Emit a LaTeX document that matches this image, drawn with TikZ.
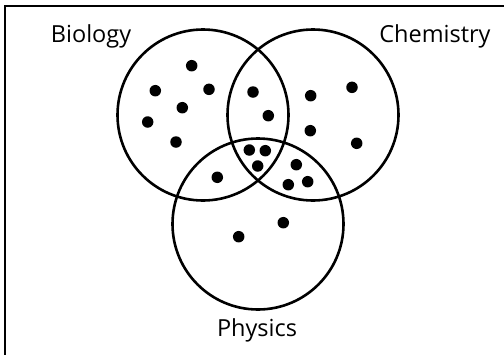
\documentclass[tikz,border=0pt]{standalone}
\usepackage{fontspec}
\setmainfont{Open Sans}
\usepackage{tikz}
\usetikzlibrary{positioning}
\tikzset{
  % --- sets and their members ---
  setcircle/.style={circle, draw=black, line width=2.6pt, minimum size=171pt,
                    inner sep=0pt},
  member/.style={circle, fill=black, minimum size=11.5pt, inner sep=0pt},
  setlabel/.style={font=\fontsize{23.5}{26}\selectfont, inner sep=0pt},
  frame/.style={draw=black, line width=2pt},
}
\begin{document}
\begin{tikzpicture}[x=1pt, y=-1pt]
  \useasboundingbox (0,0) rectangle (504,354);
  \clip (0,0) rectangle (504,354);
  \draw[frame] (5,6) rectangle (530,380);
  % the three subjects
  \node[setcircle] (bio)  at (203,115) {};
  \node[setcircle] (chem) at (313,115) {};
  \node[setcircle] (phys) at (258,224) {};
  \node[setlabel] (biolabel)  at (91,36)   {Biology};
  \node[setlabel] (chemlabel) at (435,36)  {Chemistry};
  \node[setlabel] (physlabel) at (257,330) {Physics};
  % students
  \foreach \px/\py [count=\i] in {191.7/65.7, 155.3/90.7, 209/89.3, 182.3/107.7,
      147.7/122, 176/142, 253/92, 268.3/115.7, 310.7/95.7, 352/87.3,
      310.3/130.7, 356.7/143.3, 249.3/150, 265.3/150.7, 257.7/166,
      217.3/177.3, 296.3/164.7, 288.3/184.7, 307.7/181.7, 283.3/222.7,
      238.7/236.7}
    \node[member] (m\i) at (\px,\py) {};
\end{tikzpicture}
\end{document}
